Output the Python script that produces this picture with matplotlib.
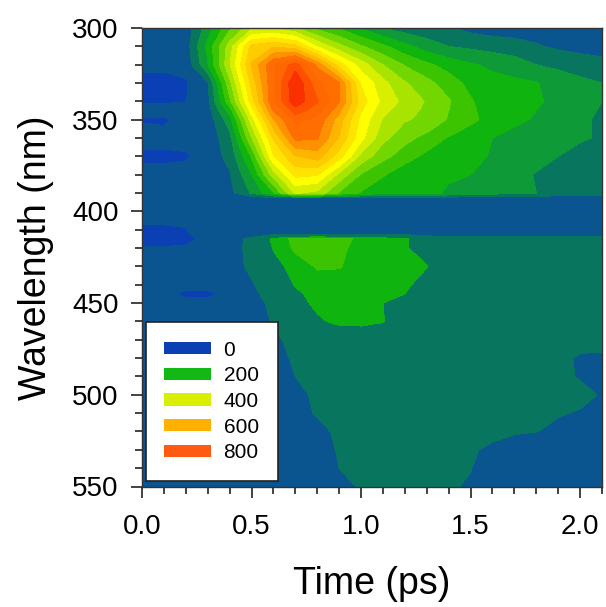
import numpy as np
import matplotlib
matplotlib.use("Agg")
import matplotlib.pyplot as plt
from matplotlib.patches import Patch
from matplotlib.ticker import MultipleLocator

plt.rcParams['font.family'] = ['Liberation Sans', 'DejaVu Sans']

# time axis (ps) and wavelength axis (nm) of the map
time = [0.0, 0.1, 0.2, 0.3, 0.4, 0.5, 0.6, 0.7, 0.8, 0.9, 1.0, 1.1, 1.2, 1.3, 1.4, 1.5, 1.6, 1.7, 1.8, 1.9, 2.0, 2.1]
wl_upper = [300, 310, 320, 330, 340, 345, 350, 360, 370, 380, 390, 393]
wl_lower = [412, 415, 420, 430, 440, 445, 450, 460, 470, 480, 490, 500, 510, 520, 530, 540, 550]

# intensity, one row per wavelength
r300 = [40, 40, 45, 150, 260, 360, 370, 330, 260, 220, 170, 125, 100, 90, 80, 60, 50, 50, 50, 50, 50, 50]
r310 = [40, 40, 50, 190, 350, 540, 570, 540, 420, 340, 280, 235, 190, 150, 125, 115, 105, 95, 80, 65, 55, 55]
r320 = [35, 35, 40, 170, 370, 580, 720, 800, 660, 500, 400, 325, 270, 235, 205, 180, 165, 150, 125, 115, 105, 90]
r330 = [10, 10, 20, 70, 310, 540, 720, 870, 740, 680, 470, 390, 330, 290, 250, 210, 190, 185, 178, 150, 135, 125]
r340 = [20, 20, 24, 60, 260, 500, 720, 860, 780, 680, 500, 410, 360, 320, 280, 230, 195, 185, 180, 165, 145, 125]
r345 = [40, 40, 40, 50, 200, 450, 680, 800, 750, 640, 480, 390, 345, 315, 275, 235, 198, 185, 175, 158, 140, 120]
r350 = [22, 18, 40, 45, 150, 400, 620, 740, 710, 600, 460, 370, 330, 310, 270, 240, 200, 185, 170, 150, 135, 115]
r360 = [40, 40, 40, 40, 110, 320, 530, 690, 680, 570, 440, 340, 290, 260, 220, 190, 175, 160, 150, 140, 130, 120]
r370 = [15, 15, 20, 45, 90, 230, 470, 570, 600, 500, 360, 290, 250, 210, 195, 190, 170, 155, 140, 125, 110, 105]
r380 = [40, 40, 40, 40, 70, 170, 350, 490, 480, 360, 270, 230, 190, 185, 180, 175, 155, 140, 122, 110, 100, 100]
r390 = [40, 40, 40, 40, 60, 130, 220, 380, 360, 270, 220, 190, 190, 185, 170, 155, 145, 135, 125, 110, 100, 100]
r393 = [40, 40, 40, 40, 40, 40, 40, 40, 40, 40, 40, 40, 40, 40, 40, 40, 40, 40, 40, 40, 40, 40]

r412 = [20, 20, 22, 40, 40, 40, 40, 40, 40, 40, 40, 40, 40, 40, 40, 40, 40, 40, 40, 40, 40, 40]
r415 = [10, 10, 15, 35, 50, 90, 190, 240, 250, 240, 215, 205, 185, 120, 100, 100, 100, 100, 100, 100, 100, 100]
r420 = [28, 28, 30, 40, 60, 85, 180, 235, 245, 235, 210, 200, 185, 130, 105, 100, 100, 100, 100, 100, 100, 72]
r430 = [40, 40, 40, 40, 55, 85, 150, 200, 230, 228, 205, 200, 195, 178, 120, 100, 100, 100, 100, 100, 100, 100]
r440 = [40, 40, 40, 40, 45, 70, 110, 180, 205, 205, 205, 200, 190, 140, 100, 100, 100, 100, 100, 100, 100, 100]
r445 = [40, 40, 15, 15, 40, 60, 100, 160, 200, 205, 205, 195, 175, 110, 100, 100, 100, 100, 100, 100, 100, 100]
r450 = [40, 40, 40, 40, 40, 50, 90, 140, 195, 205, 205, 175, 110, 100, 100, 100, 100, 100, 100, 100, 100, 100]
r460 = [40, 40, 40, 40, 40, 45, 80, 110, 160, 195, 200, 180, 110, 100, 100, 100, 100, 100, 100, 100, 100, 100]
r470 = [40, 40, 40, 40, 40, 40, 65, 90, 100, 100, 100, 100, 100, 100, 100, 100, 100, 100, 100, 95, 90, 85]
r480 = [40, 40, 40, 40, 40, 40, 50, 85, 95, 100, 100, 100, 100, 100, 100, 100, 100, 100, 95, 85, 70, 70]
r490 = [40, 40, 40, 40, 40, 40, 40, 75, 90, 95, 100, 100, 100, 100, 100, 100, 100, 100, 95, 85, 72, 70]
r500 = [40, 40, 40, 40, 40, 40, 40, 60, 85, 90, 95, 100, 100, 100, 100, 100, 95, 95, 95, 90, 85, 72]
r510 = [40, 40, 40, 40, 40, 40, 40, 55, 80, 85, 90, 95, 95, 95, 95, 90, 90, 85, 80, 78, 72, 60]
r520 = [40, 40, 40, 40, 40, 40, 40, 40, 60, 85, 90, 95, 95, 95, 90, 85, 82, 78, 76, 65, 55, 50]
r530 = [40, 40, 40, 40, 40, 40, 40, 40, 50, 80, 85, 90, 90, 85, 82, 78, 70, 60, 50, 45, 45, 45]
r540 = [40, 40, 40, 40, 40, 40, 40, 40, 45, 75, 85, 90, 88, 85, 80, 76, 60, 50, 45, 45, 45, 45]
r550 = [40, 40, 40, 40, 40, 40, 40, 40, 40, 60, 80, 88, 85, 82, 78, 72, 55, 45, 45, 45, 45, 45]

upper = np.array([r300, r310, r320, r330, r340, r345, r350, r360, r370, r380, r390, r393])
lower = np.array([r412, r415, r420, r430, r440, r445, r450, r460, r470, r480, r490, r500, r510, r520,
                  r530, r540, r550])
band_row = np.array([r393, r412])
wl_band = [393, 412]

# filled bands, centred on 0, 50, 100 ... 850
levels = [-100, 25, 75, 125, 175, 225, 275, 325, 375, 425, 475, 525, 575, 625, 675, 725, 775, 825, 1000]
band_colors = ['#0a40b4', '#0a5590', '#08755f', '#0f9a38', '#10b40e', '#3cc400', '#72d600', '#a8e400',
               '#d8f000', '#ffff00', '#ffe400', '#ffcc00', '#ffb400', '#ff9000', '#ff6e00', '#ff6800',
               '#ff5000', '#fa3000']
# the lower part goes straight from teal to bright green
lower_colors = list(band_colors)
lower_colors[3] = band_colors[2]

legend_values = ['0', '200', '400', '600', '800']
legend_colors = ['#0a40b4', '#14b814', '#d8f000', '#ffb000', '#ff5a10']

fig = plt.figure(figsize=(6.06, 6.07), dpi=100)
ax = fig.add_axes([142 / 606, 1 - 486.5 / 607, 460 / 606, 458.5 / 607])

ax.contourf(time, wl_upper, upper, levels=levels, colors=band_colors)
ax.contourf(time, wl_band, band_row, levels=levels, colors=band_colors)
ax.contourf(time, wl_lower, lower, levels=levels, colors=lower_colors)

ax.set_xlim(0, 2.1)
ax.set_ylim(550, 300)
ax.xaxis.set_major_locator(MultipleLocator(0.5))
ax.xaxis.set_minor_locator(MultipleLocator(0.1))
ax.yaxis.set_major_locator(MultipleLocator(50))
ax.yaxis.set_minor_locator(MultipleLocator(10))
ax.tick_params(which='major', length=8, width=1.2, labelsize=20, color='#222222')
ax.tick_params(which='minor', length=5, width=1.2, color='#222222')
ax.tick_params(axis='x', which='major', pad=12)
ax.tick_params(axis='y', which='major', pad=9)
for side in ax.spines.values():
    side.set_linewidth(1.0)
    side.set_color('#333333')
ax.set_xlabel('Time (ps)', fontsize=27, labelpad=18.5)
ax.set_ylabel('Wavelength (nm)', fontsize=27, labelpad=13)

handles = [Patch(facecolor=c, edgecolor='none', label=v) for c, v in zip(legend_colors, legend_values)]
leg = ax.legend(handles=handles, loc='lower left', bbox_to_anchor=(3.5 / 460, 5.5 / 458.5), borderaxespad=0,
                fontsize=15, frameon=True, fancybox=False, framealpha=1, edgecolor='#222222',
                handlelength=2.25, handleheight=0.55, handletextpad=0.6, labelspacing=0.32,
                borderpad=0.9)
leg.get_frame().set_linewidth(1.2)

fig.savefig('out.png', dpi=100)
